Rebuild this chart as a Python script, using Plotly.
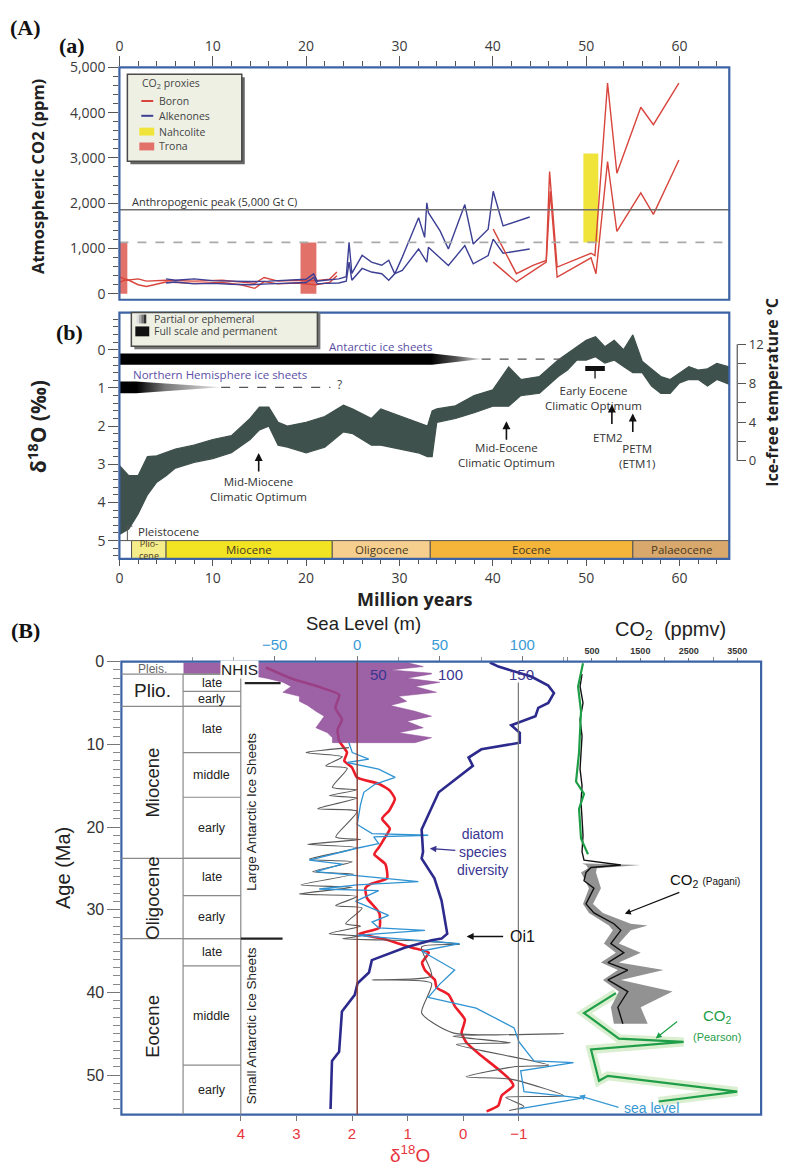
import plotly.graph_objects as go

W, H = 785, 1166
def PX(x): return x / W
def PY(y): return 1 - y / H

SANS = "Open Sans, sans-serif"
ARIAL = "Liberation Sans, Arial, sans-serif"
SERIF = "Liberation Serif, Times New Roman, serif"
FRAME = "#3b63a5"
BORON = "#d8453c"
ALK = "#3c3f94"
NAH = "#f0e33a"
TRONA = "#e2716a"
CLOUD = "#3f514c"

# ===================== DATA =====================
# ---- Panel (a): CO2 proxies (age Myr, CO2 ppm) ----
boron_young_age = [0, 0.8, 2.0, 2.9, 5, 8, 11, 13, 14.5, 15.5, 17, 19, 21, 22.5, 23.3]
boron_young_hi = [380, 300, 330, 280, 300, 280, 300, 260, 230, 360, 280, 300, 290, 320, 480]
boron_young_lo = [250, 320, 200, 160, 260, 230, 250, 200, 120, 270, 220, 240, 200, 250, 400]
boron_old_hi_age = [40.04, 42.52, 44.30, 45.72, 46.08, 46.89, 50.52, 50.94, 52.29, 53.29, 55.85, 57.20, 59.93]
boron_old_hi = [1427, 444, 626, 735, 2700, 590, 895, 844, 4651, 2664, 4119, 3734, 4651]
boron_old_lo_age = [40.04, 42.52, 45.72, 46.15, 46.89, 50.52, 51.05, 52.29, 53.29, 55.85, 57.20, 59.93]
boron_old_lo = [699, 262, 699, 2263, 371, 793, 444, 2918, 1376, 2227, 1754, 2955]
alk_hi_age = [5.0, 6, 8, 10, 12, 14, 16, 18, 20, 20.8, 21.2, 22, 23.5, 24.3, 24.6, 24.9, 26.0, 27.0, 28.1,
              28.85, 29.5, 30.3, 32.05, 32.7, 32.93, 33.1, 34.35, 35.24, 37.0, 37.9, 39.5, 40.04, 41.1, 43.95]
alk_hi = [330, 300, 330, 290, 280, 270, 280, 300, 320, 440, 280, 300, 330, 380, 1135, 450, 850, 700, 630,
          740, 440, 810, 1680, 1245, 2010, 1790, 1390, 990, 1970, 1100, 1427, 2263, 1499, 1696]
alk_lo_age = [5.0, 6, 8, 10, 12, 14, 16, 18, 20, 20.8, 21.2, 22, 23.5, 24.3, 24.6, 24.9, 26.0, 27.0, 28.1,
              28.85, 29.5, 30.3, 32.05, 32.93, 33.1, 35.24, 37.0, 37.9, 39.5, 40.04, 41.1, 43.95]
alk_lo = [240, 260, 220, 230, 210, 200, 220, 240, 250, 360, 220, 230, 240, 280, 700, 300, 560, 480, 444,
          298, 444, 517, 990, 699, 1026, 626, 1063, 662, 845, 1208, 895, 990]
nahcolite_age = [49.7, 51.3]
nahcolite_ppm = [1135, 3100]
trona_ages = [(0.0, 0.85), (19.4, 21.1)]
trona_ppm = [0, 1135]
anthropogenic_peak = 1856
dashed_level = 1135

# ---- Panel (b): benthic d18O envelope (age Myr, permil) ----
d18o_age = [0, 1, 2, 3, 4, 5, 6, 8, 10, 12, 14, 15, 16, 17, 18, 20, 22, 24, 25, 27, 28, 30, 32, 33, 33.5,
            34, 36, 38, 40, 41.7, 43, 45, 47, 48, 49, 50, 51, 52, 53, 54, 55, 56, 57, 58, 59, 60, 61, 62,
            63, 64, 65.3]
d18o_min = [3.03, 3.3, 3.3, 2.8, 2.78, 2.7, 2.6, 2.5, 2.35, 2.25, 1.8, 1.5, 1.5, 1.9, 2.0, 1.9, 1.75, 1.45,
            1.55, 1.8, 1.55, 1.73, 1.9, 2.0, 1.6, 1.55, 1.47, 1.2, 1.05, 0.45, 0.78, 0.7, 0.27, 0.1, -0.07,
            -0.25, -0.34, -0.08, -0.25, 0.0, -0.39, 0.3, 0.5, 0.7, 0.78, 0.61, 0.44, 0.53, 0.5, 0.36, 0.45]
d18o_max = [4.84, 4.7, 4.3, 3.8, 3.47, 3.3, 3.1, 2.95, 2.85, 2.7, 2.35, 2.1, 2.0, 2.5, 2.55, 2.7, 2.55, 2.15,
            2.2, 2.5, 2.5, 2.6, 2.7, 2.8, 2.8, 1.9, 1.8, 1.65, 1.48, 1.48, 1.2, 1.14, 0.7, 0.53, 0.27, 0.27,
            0.18, 0.35, 0.27, 0.44, 0.6, 0.6, 0.95, 1.14, 1.14, 0.87, 0.78, 0.78, 0.95, 0.78, 0.9]
ant_sheet_x = [0, 33.5, 38.8, 33.5, 0, 0]
ant_sheet_y = [0.10, 0.10, 0.245, 0.39, 0.39, 0.10]
ant_dash_x = [38.8, 48.4]
nh_sheet_x = [0, 1.8, 10.9, 1.8, 0, 0]
nh_sheet_y = [0.83, 0.83, 0.985, 1.14, 1.14, 0.83]
nh_dash_x = [10.9, 22.6]
eeco_range = [49.9, 52.0]
epoch_names = ["", "Plio-<br>cene", "Miocene", "Oligocene", "Eocene", "Palaeocene"]
epoch_start = [0, 1.3, 5.0, 22.8, 33.3, 55.0]
epoch_end = [1.3, 5.0, 22.8, 33.3, 55.0, 65.33]
epoch_colors = ["#ffffff", "#f5ec8a", "#f2e423", "#f6cf8e", "#f4b53a", "#d9a86c"]

# ---- Panel (B): Cenozoic records (age Ma) ----
d18o_red_age = [0.7, 2.0, 3.2, 4.0, 5.6, 7.0, 8.2, 9.6, 11.0, 12.0, 12.8, 14.0, 14.8, 15.6, 16.6, 18.0, 19.0,
                20.2, 21.4, 22.4, 23.3, 24.5, 26.2, 26.9, 27.4, 28.6, 30.4, 32.2, 32.9, 33.5, 34.6, 35.2,
                36.4, 37.3, 38.5, 39.4, 40.3, 41.7, 43.3, 44.9, 46.1, 47.7, 49.3, 50.5, 51.3, 52.5, 53.7, 54.4]
d18o_red = [3.55, 3.1, 2.53, 2.23, 2.30, 2.18, 2.26, 2.23, 2.09, 2.14, 2.0, 1.91, 1.51, 1.32, 1.23, 1.33, 1.46,
            1.32, 1.42, 1.51, 1.60, 1.40, 1.37, 1.67, 1.76, 1.73, 1.51, 1.51, 1.87, 1.46, 0.92, 0.62,
            0.74, 0.69, 0.51, 0.48, 0.26, 0.15, -0.03, 0.03, -0.06, -0.33, -0.63, -0.83, -0.90, -0.69, -0.63, -0.42]
diatom_age = [0.1, 0.6, 1.8, 2.9, 3.8, 5.0, 5.6, 6.6, 7.7, 8.6, 9.8, 10.6, 11.6, 12.6, 15.8, 20.3, 23.0, 23.8,
              26.2, 28.9, 32.9, 33.5, 33.7, 34.6, 36.1, 37.6, 38.9, 40.3, 42.3, 47.2, 48.3, 54.1]
diatom_species = [128, 134, 157, 169, 173, 169, 162, 160, 143, 149, 149, 122, 113, 116, 92, 80, 81, 80,
                  89, 94, 98, 94, 87, 68, 45, 43, 35, 33, 24, 22, 17, 16]
sl_purple_age = [0.1, 0.6, 1.0, 1.4, 1.5, 2.0, 2.5, 3.0, 3.7, 4.2, 4.8, 5.3, 6.0, 6.6, 7.2, 8.0, 8.6, 9.2, 9.8]
sl_purple_max = [30, 40, 20, 45, 45, 30, 50, 35, 48, 25, 30, 20, 35, 45, 30, 40, 25, 45, 35]
sl_purple_min = [-105, -105, -105, -105, -70, -55, -45, -40, -45, -35, -35, -30, -25, -20, -22, -25, -18, -15, -15]
sl_black_age = [10.4, 11.0, 11.5, 12.6, 12.9, 15.2, 15.5, 16.2, 16.5, 17.8, 18.1, 21.2, 21.5, 22.1, 22.5, 23.9,
                24.2, 25.4, 25.7, 27.0, 27.3, 28.1, 28.4, 29.5, 29.8, 31.7, 32.0, 32.9, 33.2, 33.5, 33.8, 34.2,
                34.5, 38.0, 38.5, 38.9, 42.5, 44.9, 45.0, 45.3, 46.1, 46.3, 48.8, 49.0, 50.2, 50.5, 52.5, 52.7,
                53.8, 54.3]
sl_black = [-5, -31, -9, -19, -6, -15, 0, -17, 0, -24, 0, -13, 2, -30, 0, -29, -3, -27, -2, -34, -3, -35, 0,
            -13, 3, -7, 2, -17, 2, -9, 40, 62, 39, 45, 9, 45, 39, 58, 125, 58, 93, 60, 116, 95, 66, 93, 125,
            90, 101, 92]
sl_blue_age = [9.8, 11.0, 11.8, 12.2, 13.0, 14.0, 14.8, 15.8, 17.3, 19.7, 20.8, 21.0, 21.2, 22.0, 22.6, 24.0,
               24.5, 25.4, 25.8, 26.6, 27.0, 27.5, 27.7, 29.0, 30.7, 31.5, 32.2, 32.5, 33.1, 34.1, 35.0, 37.3,
               39.0, 40.6, 41.9, 44.3, 46.0, 48.3, 48.5, 49.5, 52.0, 52.8, 54.1]
sl_blue = [-5, -3, 7, -6, 13, 23, 11, 4, 2, 0, 9, 43, 10, 13, -1, -29, -9, -25, -5, 37, 0, -23, 13, -1, 19, 9,
           13, 41, -1, 62, 39, 59, 50, 43, 72, 95, 98, 107, 131, 99, 101, 136, 98]
co2_green_age = [0.2, 3.0, 6.0, 11.0, 14.5, 16.0, 17.8, 21.4, 23.3]
co2_green = [316, 214, 275, 234, 172, 337, 234, 275, 419]
co2_pearson_age = [40.1, 42.5, 45.6, 46.0, 46.9, 50.7, 50.1, 52.0, 53.2]
co2_pearson = [995, 337, 1057, 2392, 481, 645, 830, 3499, 1877]
co2_pagani_age = [1.5, 3, 5, 7, 9, 11, 13, 15, 17, 19, 21, 23, 24.0, 24.6, 24.9, 25.5, 26.5, 27.4, 29.3, 30.4,
                  31.7, 32.5, 34.1, 35.2, 36.4, 37.3, 38.5, 39.9, 41.8, 43.8]
co2_pagani = [296, 255, 316, 255, 296, 275, 255, 296, 275, 296, 316, 296, 337, 1097, 481, 378, 337, 542, 378,
              542, 953, 1097, 891, 1158, 830, 1240, 830, 1240, 1035, 1138]
pagani_band_age = [24.4, 24.6, 25.0, 25.5, 27.4, 29.3, 30.4, 31.7, 31.9, 32.5, 34.1, 35.2, 36.4, 37.3, 38.5,
                   39.9, 41.8, 43.8]
pagani_band_lo = [296, 378, 420, 275, 439, 316, 439, 789, 850, 932, 747, 994, 686, 1035, 727, 1055, 891, 953]
pagani_band_hi = [400, 1507, 600, 583, 686, 522, 727, 1300, 1651, 1302, 1055, 1507, 1055, 1979, 1097, 2164,
                  1507, 1651]
B_epochs = ["Pleis.", "Plio.", "Miocene", "Oligocene", "Eocene"]
B_epoch_bounds = [0, 1.5, 5.4, 23.8, 33.5, 54.78]
B_sub_names = ["late", "early", "late", "middle", "early", "late", "early", "late", "middle", "early"]
B_sub_bounds = [1.5, 3.6, 5.4, 11.0, 16.4, 23.8, 28.3, 33.5, 36.8, 48.8, 54.78]
nhis_age = 2.6
diatom_ticks = [50, 100, 150]

# ===================== FIGURE =====================
fig = go.Figure()
def add(**kw):
    kw.setdefault("showlegend", False)
    kw.setdefault("hoverinfo", "skip")
    fig.add_trace(go.Scatter(**kw))

# ---- panel (a)
for (a0, a1) in trona_ages:
    add(x=[a0, a1, a1, a0, a0], y=[trona_ppm[0], trona_ppm[0], trona_ppm[1], trona_ppm[1], trona_ppm[0]],
        fill="toself", fillcolor=TRONA, line=dict(width=0), mode="lines", xaxis="x", yaxis="y")
add(x=[nahcolite_age[0], nahcolite_age[1], nahcolite_age[1], nahcolite_age[0], nahcolite_age[0]],
    y=[nahcolite_ppm[0], nahcolite_ppm[0], nahcolite_ppm[1], nahcolite_ppm[1], nahcolite_ppm[0]],
    fill="toself", fillcolor=NAH, line=dict(width=0), mode="lines", xaxis="x", yaxis="y")
for xs, ys, c in [(boron_young_age, boron_young_hi, BORON), (boron_young_age, boron_young_lo, BORON),
                  (alk_hi_age, alk_hi, ALK), (alk_lo_age, alk_lo, ALK),
                  (boron_old_hi_age, boron_old_hi, BORON), (boron_old_lo_age, boron_old_lo, BORON)]:
    add(x=xs, y=ys, mode="lines", line=dict(color=c, width=1.4), xaxis="x", yaxis="y")

# ---- panel (b)
add(x=d18o_age, y=d18o_min, mode="lines", line=dict(color=CLOUD, width=1.2), xaxis="x2", yaxis="y2")
add(x=d18o_age, y=d18o_max, mode="lines", line=dict(color=CLOUD, width=1.2), fill="tonexty",
    fillcolor=CLOUD, xaxis="x2", yaxis="y2")
add(x=ant_sheet_x, y=ant_sheet_y, mode="lines", line=dict(width=0), fill="toself",
    fillgradient=dict(type="horizontal", colorscale=[[0, "#000"], [0.86, "#000"], [0.93, "#555"], [1, "#ddd"]]),
    xaxis="x2", yaxis="y2")
add(x=nh_sheet_x, y=nh_sheet_y, mode="lines", line=dict(width=0), fill="toself",
    fillgradient=dict(type="horizontal", colorscale=[[0, "#000"], [0.17, "#000"], [0.45, "#777"], [1, "#e5e5e5"]]),
    xaxis="x2", yaxis="y2")
add(x=ant_dash_x, y=[ant_sheet_y[2]] * 2, mode="lines",
    line=dict(color="#555", width=1.3, dash="dash"), xaxis="x2", yaxis="y2")
add(x=nh_dash_x, y=[nh_sheet_y[2]] * 2, mode="lines", line=dict(color="#555", width=1.3, dash="dash"),
    xaxis="x2", yaxis="y2")
add(x=eeco_range, y=[0.49, 0.49], mode="lines", line=dict(color="#111", width=5), xaxis="x2", yaxis="y2")
add(x=[sum(eeco_range) / 2] * 2, y=[0.49, 0.75], mode="lines", line=dict(color="#111", width=1.3),
    xaxis="x2", yaxis="y2")
add(x=[0], y=[0], mode="markers", marker=dict(opacity=0), xaxis="x2", yaxis="y4")

# ---- panel (B)
add(x=sl_purple_max + sl_purple_min[::-1], y=sl_purple_age + sl_purple_age[::-1], mode="lines",
    fill="toself", fillcolor="rgba(140,70,150,0.85)", line=dict(color="rgba(140,70,150,0.6)", width=0.8),
    xaxis="x4", yaxis="y3")
add(x=sl_black, y=sl_black_age, mode="lines", line=dict(color="#5a5a5a", width=1.1, shape="spline", smoothing=0.6),
    xaxis="x4", yaxis="y3")
add(x=sl_blue, y=sl_blue_age, mode="lines", line=dict(color="#2f93d3", width=1.3), xaxis="x4", yaxis="y3")
add(x=diatom_species, y=diatom_age, mode="lines", line=dict(color="#2c2a8c", width=2.6), xaxis="x5", yaxis="y3")
add(x=d18o_red, y=d18o_red_age, mode="lines", line=dict(color="#ec1c28", width=2.6, shape="spline", smoothing=0.5),
    xaxis="x3", yaxis="y3")
add(x=pagani_band_lo, y=pagani_band_age, mode="lines", line=dict(width=0), xaxis="x6", yaxis="y3")
add(x=pagani_band_hi, y=pagani_band_age, mode="lines", line=dict(width=0), fill="tonextx",
    fillcolor="rgba(110,110,110,0.75)", xaxis="x6", yaxis="y3")
add(x=co2_pagani, y=co2_pagani_age, mode="lines", line=dict(color="#111", width=1.4), xaxis="x6", yaxis="y3")
add(x=co2_pearson, y=co2_pearson_age, mode="lines", line=dict(color="rgba(150,205,120,0.35)", width=9),
    xaxis="x6", yaxis="y3")
add(x=co2_pearson, y=co2_pearson_age, mode="lines", line=dict(color="#1f9e48", width=2.2), xaxis="x6", yaxis="y3")
add(x=co2_green, y=co2_green_age, mode="lines", line=dict(color="#1f9e48", width=2.2), xaxis="x6", yaxis="y3")

# ===================== LAYOUT =====================
tick_font = dict(family=SANS, size=14, color="#3a3a3a")
def minor(**k):
    d = dict(ticks="outside", tickcolor="#555")
    d.update(k)
    return d

layout = dict(
    width=W, height=H, margin=dict(l=0, r=0, t=0, b=0), paper_bgcolor="white", plot_bgcolor="rgba(0,0,0,0)",
    xaxis=dict(domain=[PX(116), PX(729)], range=[0, 65.33], anchor="y", side="top", tick0=0, dtick=10,
               ticks="outside", ticklen=10, tickcolor="#555", tickfont=tick_font, showgrid=False, zeroline=False,
               minor=minor(tick0=0, dtick=2, ticklen=5)),
    yaxis=dict(domain=[PY(293), PY(58)], range=[-131, 5000], anchor="x", tick0=0, dtick=1000, tickformat=",",
               ticks="outside", ticklen=10, tickcolor="#555", tickfont=tick_font, showgrid=False, zeroline=False,
               minor=minor(tick0=0, dtick=200, ticklen=5)),
    xaxis2=dict(domain=[PX(116), PX(729)], range=[0, 65.33], anchor="y2", tick0=0, dtick=10, ticks="outside",
                ticklen=6, tickcolor="#555", tickfont=tick_font, showgrid=False, zeroline=False,
                minor=minor(tick0=0, dtick=2, ticklen=4)),
    yaxis2=dict(domain=[PY(555), PY(306)], range=[5.477, -0.974], anchor="x2", tick0=0, dtick=1, ticks="outside",
                ticklen=10, tickcolor="#555", tickfont=tick_font, showgrid=False, zeroline=False,
                minor=minor(tick0=0, dtick=0.2, ticklen=5)),
    yaxis4=dict(overlaying="y2", side="right", anchor="free", position=PX(737), range=[-10.07, 15.26],
                tickmode="array", tickvals=[0, 4, 8, 12], ticks="outside", ticklen=8, tickcolor="#555",
                tickfont=dict(family=SANS, size=13, color="#3a3a3a"), showgrid=False, zeroline=False,
                showline=False, minor=minor(tickvals=[2, 6, 10], ticklen=8)),
    xaxis3=dict(domain=[PX(118), PX(761)], range=[6.147, -5.356], anchor="y3", tickmode="array",
                tickvals=[4, 3, 2, 1, 0, -1], ticktext=["4", "3", "2", "1", "0", "\u22121"], ticks="outside",
                ticklen=5, tickcolor="#777", tickfont=dict(family=ARIAL, size=15, color="#e8343c"),
                showgrid=False, zeroline=False),
    yaxis3=dict(domain=[PY(1117), PY(659)], range=[54.78, 0], anchor="x3", tick0=0, dtick=10, ticks="outside",
                ticklen=13, tickcolor="#777", tickfont=dict(family=ARIAL, size=16, color="#333"),
                showgrid=False, zeroline=False, minor=minor(tick0=0, dtick=1, ticklen=7, tickcolor="#888")),
    xaxis4=dict(overlaying="x3", anchor="y3", side="top", range=[-142.8, 244.6], tickmode="array",
                tickvals=[-50, 0, 50, 100], ticktext=["\u221250", "0", "50", "100"], ticks="outside", ticklen=5,
                tickcolor="#777", tickfont=dict(family=ARIAL, size=15, color="#3a9ad5"), showgrid=False,
                zeroline=False, minor=minor(tickvals=[-100, -75, -25, 25, 75, 125], ticklen=4, tickcolor="#999")),
    xaxis5=dict(overlaying="x3", anchor="y3", range=[-131, 318.6], visible=False),
    xaxis6=dict(overlaying="x3", anchor="y3", side="top", range=[-9211, 3992], tickmode="array",
                tickvals=[500, 1500, 2500, 3500], ticks="outside", ticklen=3, tickcolor="#777",
                tickfont=dict(family=ARIAL, size=9, color="#333", weight="bold"), showgrid=False, zeroline=False,
                minor=minor(tickvals=[0, 1000, 2000, 3000], ticklen=4, tickcolor="#888")),
)

shapes = []
def rect_px(x0, y0, x1, y1, fill=None, line="#555", lw=1, layer="above"):
    shapes.append(dict(type="rect", xref="paper", yref="paper", x0=PX(x0), x1=PX(x1), y0=PY(y0), y1=PY(y1),
                       fillcolor=fill, line=dict(color=line, width=lw), layer=layer))
def line_px(x0, y0, x1, y1, color="#888", lw=1, dash=None):
    shapes.append(dict(type="line", xref="paper", yref="paper", x0=PX(x0), x1=PX(x1), y0=PY(y0), y1=PY(y1),
                       line=dict(color=color, width=lw, dash=dash)))

# reference lines in (a)
shapes.append(dict(type="line", xref="x domain", yref="y", x0=0, x1=1, y0=anthropogenic_peak, y1=anthropogenic_peak,
                   line=dict(color="#6e6e6e", width=1.4)))
shapes.append(dict(type="line", xref="x domain", yref="y", x0=0, x1=0.99, y0=dashed_level, y1=dashed_level,
                   line=dict(color="#aaa", width=1.6, dash="dash")))
# epoch band in (b)
for s, e, c in zip(epoch_start, epoch_end, epoch_colors):
    shapes.append(dict(type="rect", xref="x2", yref="y2", x0=s, x1=e, y0=5.0, y1=5.477, fillcolor=c,
                       line=dict(color="#555", width=1)))
# frames
for xr, yr in [("x", "y"), ("x2", "y2"), ("x3", "y3")]:
    shapes.append(dict(type="rect", xref=xr + " domain", yref=yr + " domain", x0=0, x1=1, y0=0, y1=1,
                       line=dict(color=FRAME, width=2.2)))
# legend (a)
rect_px(127, 68, 242, 156, fill="#666", line="#666", lw=0)
rect_px(124, 65, 239, 153, fill="#eef0e4", line="#4a4a4a", lw=1.5)
line_px(138, 92, 150, 92, BORON, 2)
line_px(138, 107, 150, 107, ALK, 2)
rect_px(136, 119, 151, 127, fill=NAH, line=NAH, lw=0)
rect_px(136, 134, 151, 142, fill=TRONA, line=TRONA, lw=0)
# legend (b)
rect_px(131, 306, 318, 343, fill="#777", line="#777", lw=0)
rect_px(128, 306, 315, 340, fill="#eef0e4", line="#4a4a4a", lw=1.5)
for i, g in enumerate(["#e0e0e0", "#b0b0b0", "#707070", "#303030"]):
    rect_px(133 + 2.5 * i, 308, 135.5 + 2.5 * i, 317, fill=g, line=g, lw=0)
rect_px(132, 320, 146, 330, fill="#111", line="#111", lw=0)
# temperature axis line
line_px(737, 338, 737, 456, "#555", 1.2)
# Pleistocene bracket
line_px(124, 522, 124, 537, "#555", 1)
line_px(124, 522, 129, 522, "#555", 1)

# panel (B) table
def ypx_age(a):
    return 659 + a * (1117 - 659) / 54.78
for b in B_epoch_bounds[1:-1]:
    line_px(118, ypx_age(b), 238, ypx_age(b), "#8a8a8a", 1.2)
for b in B_sub_bounds[:-1]:
    line_px(180, ypx_age(b), 238, ypx_age(b), "#8a8a8a", 1.2)
line_px(180, ypx_age(B_epoch_bounds[1]), 180, 1117, "#8a8a8a", 1.2)
line_px(238, ypx_age(B_epoch_bounds[1]), 238, 1117, "#8a8a8a", 1.2)
line_px(238, ypx_age(33.5), 280, ypx_age(33.5), "#222", 2.2)
line_px(242, ypx_age(nhis_age), 278, ypx_age(nhis_age), "#222", 2.2)
line_px(355, 659, 355, 1117, "#8b3a2e", 1.4)
line_px(517, 680, 517, 1117, "#777", 1.2)

layout["shapes"] = shapes

ann = []
def T(text, x, y, size=12, color="#333", family=SANS, angle=0, xa="center", ya="middle", **kw):
    d = dict(text=text, x=PX(x), y=PY(y), xref="paper", yref="paper", showarrow=False,
             font=dict(family=family, size=size, color=color), textangle=angle, xanchor=xa, yanchor=ya)
    d.update(kw)
    ann.append(d)
def A(hx, hy, tx, ty, color="#111", w=1.6, head=2):
    ann.append(dict(text="", x=PX(hx), y=PY(hy), xref="paper", yref="paper", ax=tx - hx, ay=ty - hy,
                    showarrow=True, arrowhead=head, arrowsize=1, arrowwidth=w, arrowcolor=color))

T("<b>(A)</b>", 22, 18, 22, "#111", SERIF)
T("<b>(a)</b>", 68, 36, 22, "#111", SERIF)
T("<b>(b)</b>", 66, 326, 22, "#111", SERIF)
T("<b>(B)</b>", 22, 628, 22, "#111", SERIF)
T("<b>Atmospheric CO2 (ppm)</b>", 33, 168, 16.5, "#222", SANS, -90)
T("<b>\u03b4<sup>18</sup>O (\u2030)</b>", 33, 421, 21, "#222", SANS, -90)
T("<b>Ice-free temperature \u00b0C</b>", 772, 387, 16, "#222", SANS, -90)
T("<b>Million years</b>", 413, 596, 18, "#222", SANS)
# legend (a) text
T("CO<sub>2</sub> proxies", 137, 74, 10.5, "#444", SANS, xa="left")
T("Boron", 154, 92, 10.5, "#444", SANS, xa="left")
T("Alkenones", 154, 107, 10.5, "#444", SANS, xa="left")
T("Nahcolite", 154, 123, 10.5, "#444", SANS, xa="left")
T("Trona", 154, 138, 10.5, "#444", SANS, xa="left")
T("Anthropogenic peak (5,000 Gt C)", 127, 194, 11, "#333", SANS, xa="left")
# legend (b) text
T("Partial or ephemeral", 149, 312, 10.5, "#444", SANS, xa="left")
T("Full scale and permanent", 149, 325, 10.5, "#444", SANS, xa="left")
T("Antarctic ice sheets", 378, 340, 11.5, "#5a4fa6", SANS)
T("Northern Hemisphere ice sheets", 217, 369, 11.5, "#5a4fa6", SANS)
T("?", 337, 379, 12, "#444", SANS)
T("Mid-Miocene<br>Climatic Optimum", 256, 484, 11.5, "#333", SANS)
T("Mid-Eocene<br>Climatic Optimum", 505, 450, 11.5, "#333", SANS)
T("Early Eocene<br>Climatic Optimum", 593, 392, 11.5, "#333", SANS)
T("ETM2", 607, 432, 11.5, "#333", SANS)
T("PETM<br>(ETM1)", 636, 451, 11.5, "#333", SANS)
T("Pleistocene", 133, 527, 11.5, "#333", SANS, xa="left")
A(256, 448, 256, 468)
A(505, 416, 505, 436)
A(611, 399, 611, 420)
A(632, 408, 632, 428)
for name, s, e in zip(epoch_names, epoch_start, epoch_end):
    if name:
        ann.append(dict(text=name, x=(s + e) / 2, y=5.24, xref="x2", yref="y2", showarrow=False,
                        font=dict(family=SANS, size=9 if "<br>" in name else 11.5, color="#4a3a20")))
# panel (B) text
T("Sea Level (m)", 361, 620, 18.5, "#222", ARIAL)
T("CO<sub>2</sub>  (ppmv)", 670, 627, 20, "#222", ARIAL)
T("Age (Ma)", 60, 868, 20, "#222", ARIAL, -90)
T("\u03b4<sup>18</sup>O", 408, 1157, 19, "#e8343c", ARIAL)
for v in diatom_ticks:
    ann.append(dict(text=str(v), x=v, y=PY(672), xref="x5", yref="paper", showarrow=False,
                    font=dict(family=ARIAL, size=15, color="#3a3590")))
row_mid = [(B_epoch_bounds[i] + B_epoch_bounds[i + 1]) / 2 for i in range(len(B_epochs))]
for name, m in zip(B_epochs, row_mid):
    if name == "Pleis.":
        T(name, 149, ypx_age(m) + 1, 12, "#666", ARIAL)
    elif name == "Plio.":
        T(name, 149, ypx_age(m), 19, "#222", ARIAL)
    else:
        T(name, 149, ypx_age(m), 18.5, "#222", ARIAL, -90)
for name, s, e in zip(B_sub_names, B_sub_bounds[:-1], B_sub_bounds[1:]):
    T(name, 209, ypx_age((s + e) / 2), 12.5, "#222", ARIAL)
T("Large Antarctic Ice Sheets", 249, 811, 13.5, "#222", ARIAL, -90)
T("Small Antarctic Ice Sheets", 249, 1027, 13.5, "#222", ARIAL, -90)
T("NHIS", 237, 667, 15.5, "#222", ARIAL, bgcolor="white", borderpad=0)
T("diatom<br>species<br>diversity", 481, 851, 14, "#3a3590", ARIAL)
A(428, 848, 455, 850, "#3a3590", 1.3)
T("Oi1", 521, 937, 16, "#111", ARIAL)
A(465, 937, 503, 937, "#111", 1.4)
T("CO<sub>2</sub> <span style='font-size:10px'>(Pagani)</span>", 705, 880, 15, "#111", ARIAL)
A(624, 914, 680, 892, "#111", 1.2)
T("CO<sub>2</sub><br><span style='font-size:11px'>(Pearson)</span>", 717, 1026, 15, "#1f9e48", ARIAL)
A(655, 1040, 678, 1022, "#1f9e48", 1.2)
T("sea level", 651, 1110, 14, "#3a9ad5", ARIAL)
A(578, 1098, 619, 1110, "#3a9ad5", 1.2)

layout["annotations"] = ann
fig.update_layout(**layout)
fig.write_html("out.html")
